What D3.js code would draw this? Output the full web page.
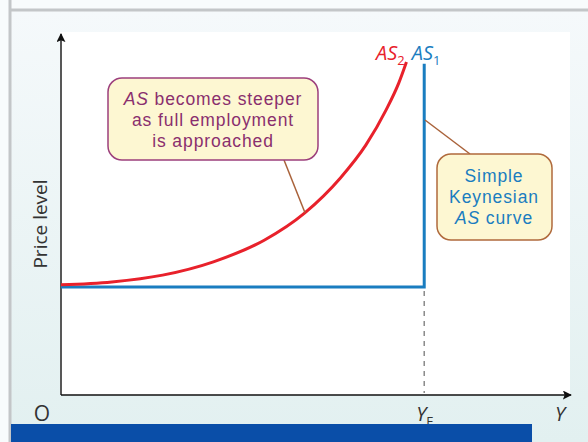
<!DOCTYPE html>
<html>
<head>
<meta charset="utf-8">
<script src="https://cdn.jsdelivr.net/npm/d3@7"></script>
<style>
  html, body { margin: 0; padding: 0; background: #f7fafb; }
  svg { display: block; font-family: "Open Sans", "Liberation Sans", Arial, sans-serif; }
  .note { font-family: "Liberation Sans", Arial, sans-serif; letter-spacing: 0.9px; }
</style>
</head>
<body>
<svg id="chart" width="588" height="442"></svg>
<script>
// AS2: curve that gets steeper as full employment is approached
var as2X = [0, 1.0, 2.0, 3.0, 4.0, 4.8, 5.5, 6.0, 6.4, 6.65, 6.8];
var as2P = [3.06, 3.14, 3.33, 3.70, 4.30, 5.06, 6.03, 6.94, 7.92, 8.67, 9.25];

// AS1: simple Keynesian AS (flat then vertical at YF)
var as1X = [0, 7.15, 7.15];
var as1P = [3.0, 3.0, 9.2];

var yF = 7.15;
var axisLabels = ["O", "Y", "Price level"];

var svg = d3.select("#chart");
var W = 588, H = 442;

var x = d3.scaleLinear().domain([0, 10]).range([61, 569]);
var y = d3.scaleLinear().domain([0, 10]).range([395, 35]);

var defs = svg.append("defs");
var bg = defs.append("linearGradient").attr("id", "bg").attr("x1", 0).attr("x2", 0).attr("y1", 0).attr("y2", 1);
bg.append("stop").attr("offset", "0%").attr("stop-color", "#f5f9fb");
bg.append("stop").attr("offset", "100%").attr("stop-color", "#e2f0f0");

defs.append("marker").attr("id", "arr")
    .attr("viewBox", "0 0 10 10").attr("refX", 9).attr("refY", 5)
    .attr("markerWidth", 9).attr("markerHeight", 9)
    .attr("markerUnits", "userSpaceOnUse")
    .attr("orient", "auto")
  .append("path").attr("d", "M0,0 L10,5 L0,10 L2,5 Z").attr("fill", "#111");

// page frame
svg.append("rect").attr("x", 0).attr("y", 0).attr("width", W).attr("height", H).attr("fill", "#f8fbfc");
svg.append("rect").attr("x", 11).attr("y", 11).attr("width", W - 11).attr("height", H - 11).attr("fill", "url(#bg)");
svg.append("line").attr("x1", 11).attr("x2", W).attr("y1", 10).attr("y2", 10)
    .attr("stroke", "#c3c6c8").attr("stroke-width", 3);
svg.append("line").attr("x1", 10).attr("x2", 10).attr("y1", 0).attr("y2", H)
    .attr("stroke", "#c3c6c8").attr("stroke-width", 3);

// white panel
svg.append("rect").attr("x", 60).attr("y", 32).attr("width", 510).attr("height", 363).attr("fill", "#ffffff");

// axes
svg.append("line").attr("x1", x(0)).attr("y1", y(0)).attr("x2", x(0)).attr("y2", 34)
    .attr("stroke", "#111").attr("stroke-width", 1.4).attr("marker-end", "url(#arr)");
svg.append("line").attr("x1", x(0)).attr("y1", y(0)).attr("x2", 571).attr("y2", y(0))
    .attr("stroke", "#111").attr("stroke-width", 1.4).attr("marker-end", "url(#arr)");

// dashed drop at YF
svg.append("line").attr("x1", x(yF)).attr("x2", x(yF)).attr("y1", y(3.0) + 4).attr("y2", y(0) - 2)
    .attr("stroke", "#8a8a8a").attr("stroke-width", 1.5).attr("stroke-dasharray", "5,5");

var line = d3.line().x(function (d) { return x(d[0]); }).y(function (d) { return y(d[1]); });

svg.append("path")
    .datum(as1X.map(function (v, i) { return [v, as1P[i]]; }))
    .attr("d", line.curve(d3.curveLinear))
    .attr("fill", "none").attr("stroke", "#1a7dc0").attr("stroke-width", 3);

svg.append("path")
    .datum(as2X.map(function (v, i) { return [v, as2P[i]]; }))
    .attr("d", d3.line().x(function (d) { return x(d[0]); }).y(function (d) { return y(d[1]); }).curve(d3.curveMonotoneX))
    .attr("fill", "none").attr("stroke", "#e8212b").attr("stroke-width", 3);

// curve labels
var lab = svg.append("text").attr("x", 376).attr("y", 60).attr("font-size", 20).attr("font-style", "italic");
lab.append("tspan").attr("fill", "#e8212b").text("AS");
lab.append("tspan").attr("fill", "#e8212b").attr("font-size", 13).attr("font-style", "normal").attr("dy", 5).text("2");
lab.append("tspan").attr("fill", "#1a7dc0").attr("dy", -5).attr("dx", 7).text("AS");
lab.append("tspan").attr("fill", "#1a7dc0").attr("font-size", 13).attr("font-style", "normal").attr("dy", 5).text("1");

// callout 1
svg.append("line").attr("x1", 284).attr("y1", 160).attr("x2", 305).attr("y2", y(5.06))
    .attr("stroke", "#a9623a").attr("stroke-width", 1.5);
svg.append("rect").attr("x", 108).attr("y", 78).attr("width", 210).attr("height", 82).attr("rx", 14)
    .attr("fill", "#fdf7d2").attr("stroke", "#9c3f7c").attr("stroke-width", 1.5);
var c1 = svg.append("text").attr("class", "note").attr("text-anchor", "middle").attr("fill", "#8a2f6e").attr("font-size", 17.5);
var t1 = c1.append("tspan").attr("x", 213).attr("y", 105);
t1.append("tspan").attr("font-style", "italic").text("AS");
t1.append("tspan").text(" becomes steeper");
c1.append("tspan").attr("x", 213).attr("y", 126).text("as full employment");
c1.append("tspan").attr("x", 213).attr("y", 147).text("is approached");

// callout 2
svg.append("line").attr("x1", 425).attr("y1", 120).attr("x2", 470).attr("y2", 154)
    .attr("stroke", "#a9623a").attr("stroke-width", 1.5);
svg.append("rect").attr("x", 437).attr("y", 154).attr("width", 115).attr("height", 86).attr("rx", 14)
    .attr("fill", "#fdf7d2").attr("stroke", "#b06a3c").attr("stroke-width", 1.5);
var c2 = svg.append("text").attr("class", "note").attr("text-anchor", "middle").attr("fill", "#1a7dc0").attr("font-size", 17.5);
c2.append("tspan").attr("x", 494).attr("y", 182).text("Simple");
c2.append("tspan").attr("x", 494).attr("y", 203).text("Keynesian");
var t2 = c2.append("tspan").attr("x", 494).attr("y", 224);
t2.append("tspan").attr("font-style", "italic").text("AS");
t2.append("tspan").text(" curve");

// axis labels
svg.append("text").attr("x", 42).attr("y", 421).attr("text-anchor", "middle")
    .attr("font-size", 21).attr("fill", "#333").text(axisLabels[0]);
var yfl = svg.append("text").attr("x", x(yF) - 8).attr("y", 421).attr("font-size", 20).attr("font-style", "italic").attr("fill", "#333");
yfl.append("tspan").text("Y");
yfl.append("tspan").attr("font-size", 13).attr("font-style", "normal").attr("dy", 5).text("F");
svg.append("text").attr("x", 560).attr("y", 421).attr("text-anchor", "middle")
    .attr("font-size", 20).attr("font-style", "italic").attr("fill", "#333").text(axisLabels[1]);
svg.append("text").attr("transform", "translate(47,224) rotate(-90)").attr("text-anchor", "middle")
    .attr("font-size", 19).attr("fill", "#333").text(axisLabels[2]);

// bottom caption bar
svg.append("rect").attr("x", 11).attr("y", 424).attr("width", 521).attr("height", 18).attr("fill", "#0a4ea8");
</script>
</body>
</html>
